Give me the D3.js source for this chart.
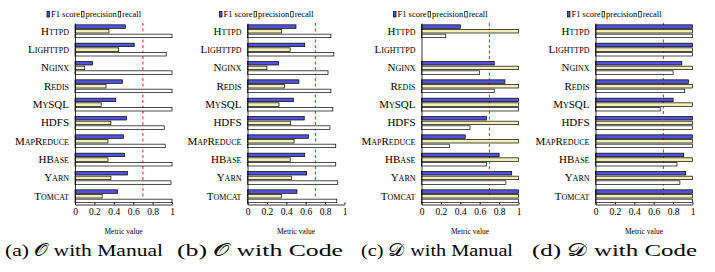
<!DOCTYPE html>
<html>
<head>
<meta charset="utf-8">
<script src="https://cdn.jsdelivr.net/npm/d3@7"></script>
<style>
  body { margin: 0; background: #fff; }
</style>
</head>
<body>
<div id="chart"></div>
<script>
// systems, top to bottom
const systems = ["Httpd", "Lighttpd", "Nginx", "Redis", "MySQL", "HDFS", "MapReduce", "HBase", "Yarn", "Tomcat"];
const metrics = ["F1 score", "precision", "recall"];
const xTicks = [0, 0.2, 0.4, 0.6, 0.8, 1];
const threshold = 0.7;

// (a) O with Manual
const oManualF1 = [0.52, 0.61, 0.18, 0.49, 0.42, 0.53, 0.50, 0.51, 0.54, 0.44];
const oManualPrec = [0.35, 0.45, 0.10, 0.32, 0.27, 0.37, 0.34, 0.34, 0.37, 0.28];
const oManualRec = [1.0, 0.94, 1.0, 1.0, 1.0, 0.92, 0.93, 1.0, 0.99, 1.0];
// (b) O with Code
const oCodeF1 = [0.50, 0.59, 0.32, 0.53, 0.475, 0.585, 0.63, 0.59, 0.61, 0.51];
const oCodePrec = [0.35, 0.44, 0.20, 0.38, 0.325, 0.445, 0.48, 0.44, 0.455, 0.35];
const oCodeRec = [0.86, 0.89, 0.83, 0.86, 0.88, 0.85, 0.91, 0.91, 0.93, 0.92];
// (c) D with Manual
const dManualF1 = [0.40, 0, 0.75, 0.86, 1.0, 0.67, 0.45, 0.80, 0.93, 1.0];
const dManualPrec = [1.0, 0, 1.0, 1.0, 1.0, 1.0, 1.0, 1.0, 1.0, 1.0];
const dManualRec = [0.25, 0, 0.60, 0.75, 1.0, 0.50, 0.29, 0.67, 0.87, 1.0];
// (d) D with Code
const dCodeF1 = [1.0, 1.0, 0.89, 0.96, 0.80, 1.0, 1.0, 0.91, 0.93, 1.0];
const dCodePrec = [1.0, 1.0, 1.0, 1.0, 1.0, 1.0, 1.0, 1.0, 1.0, 1.0];
const dCodeRec = [1.0, 1.0, 0.80, 0.92, 0.667, 1.0, 1.0, 0.84, 0.87, 1.0];

const panels = [
  { label: "(a) ", script: "\u{1D4AA}", rest: " with Manual", series: [oManualF1, oManualPrec, oManualRec] },
  { label: "(b) ", script: "\u{1D4AA}", rest: " with Code", series: [oCodeF1, oCodePrec, oCodeRec] },
  { label: "(c) ", script: "\u{1D49F}", rest: " with Manual", series: [dManualF1, dManualPrec, dManualRec] },
  { label: "(d) ", script: "\u{1D49F}", rest: " with Code", series: [dCodeF1, dCodePrec, dCodeRec] }
];

const width = 715, height = 272;
const serif = '"Liberation Serif"';
const colors = ["#5252e0", "#f4efb4", "#ffffff"];
const left = [75, 247.5, 421.5, 595.5];
const plotW = 97, plotTop = 23, plotBottom = 204.5;
const captionX = [5, 177, 361, 532];
const captionW = [158, 166, 152, 165];

const svg = d3.select("#chart").append("svg")
  .attr("width", width).attr("height", height)
  .style("font-family", serif);

const x = d3.scaleLinear().domain([0, 1]).range([0, plotW]);
const y = d3.scaleBand().domain(systems).range([plotTop, plotBottom]).paddingInner(0.3).paddingOuter(0.1);
const yInner = d3.scaleBand().domain(d3.range(metrics.length)).range([0, y.bandwidth()]).paddingInner(0.25);

panels.forEach((p, i) => {
  const g = svg.append("g").attr("transform", `translate(${left[i]},0)`);

  // threshold (behind bars)
  g.append("line")
    .attr("x1", x(threshold)).attr("x2", x(threshold))
    .attr("y1", plotTop).attr("y2", plotBottom)
    .attr("stroke", "#ee2222").attr("stroke-width", 1)
    .attr("stroke-dasharray", "3,2.5");

  // bars
  p.series.forEach((vals, m) => {
    g.append("g").selectAll("rect")
      .data(vals.map((v, k) => ({ v, sys: systems[k] })).filter(d => d.v > 0))
      .join("rect")
      .attr("x", 0)
      .attr("y", d => y(d.sys) + yInner(m))
      .attr("width", d => x(d.v))
      .attr("height", yInner.bandwidth())
      .attr("fill", colors[m])
      .attr("stroke", "#000")
      .attr("stroke-width", 0.7);
  });

  // y axis
  const ya = g.append("g")
    .call(d3.axisLeft(y).tickSize(0).tickPadding(6));
  ya.attr("font-family", null);
  ya.selectAll("text").style("font-variant", "small-caps").attr("font-size", 11);
  ya.select(".domain").attr("stroke-width", 0.8);

  // x axis
  const xa = g.append("g").attr("transform", `translate(0,${plotBottom})`)
    .call(d3.axisBottom(x).tickValues(xTicks).tickFormat(d3.format("~g"))
      .tickSizeInner(-2).tickSizeOuter(0).tickPadding(4));
  xa.attr("font-family", null);
  xa.selectAll("text").attr("font-size", 9.5);
  xa.select(".domain").attr("stroke-width", 0.8);

  g.append("text")
    .attr("x", plotW / 2).attr("y", 234)
    .attr("text-anchor", "middle").attr("font-size", 7.5)
    .text("Metric value");

  // legend
  const lg = g.append("g").attr("transform", `translate(-28,11)`);
  let lx = 0;
  metrics.forEach((name, m) => {
    lg.append("rect").attr("x", lx).attr("y", 0.5).attr("width", 2.5).attr("height", 5.5)
      .attr("fill", colors[m]).attr("stroke", "#000").attr("stroke-width", 0.7);
    const t = lg.append("text").attr("x", lx + 4).attr("y", 6).attr("font-size", 8.5).text(name);
    lx += t.node().getComputedTextLength() + 5.5;
  });

  // caption, fitted to the width it takes in the figure
  const cap = svg.append("text").attr("x", captionX[i]).attr("y", 256).attr("font-size", 17)
    .attr("textLength", captionW[i]).attr("lengthAdjust", "spacingAndGlyphs");
  cap.append("tspan").text(p.label);
  cap.append("tspan").text(p.script);
  cap.append("tspan").text(p.rest);
});

svg.selectAll("text").style("font-family", serif);
</script>
</body>
</html>
